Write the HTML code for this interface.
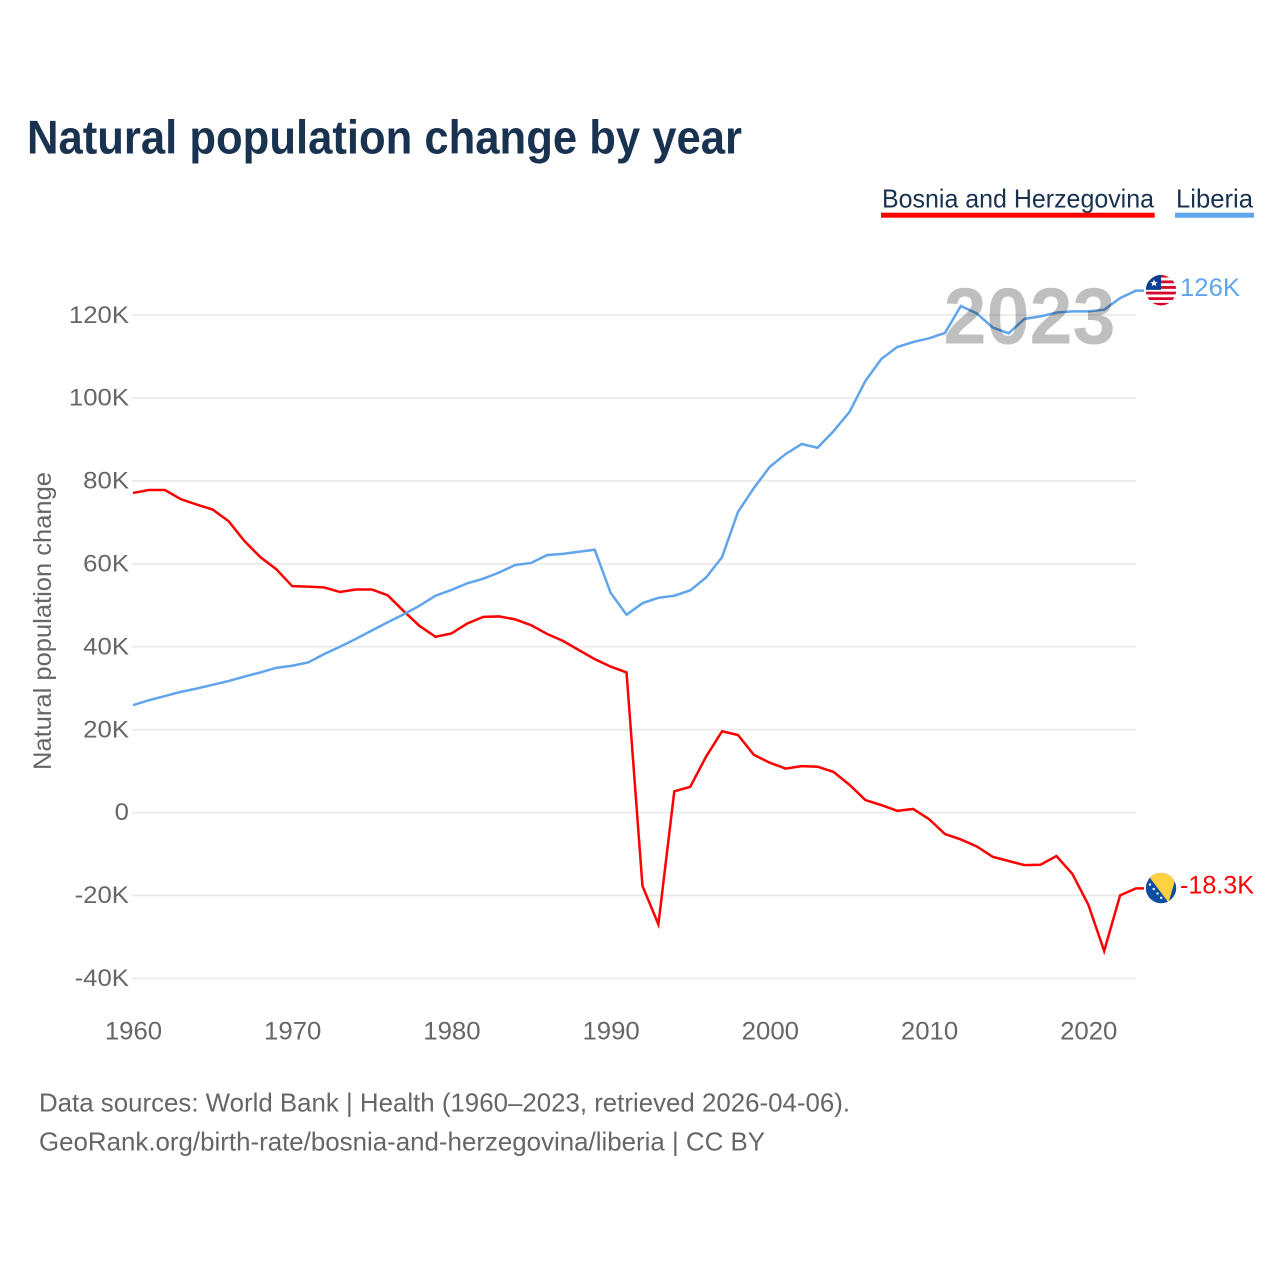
<!DOCTYPE html>
<html lang="en">
<head>
<meta charset="utf-8">
<title>Natural population change by year</title>
<style>
html,body{margin:0;padding:0;background:#fff;width:1280px;height:1280px;overflow:hidden}
svg{display:block;font-family:"Liberation Sans",sans-serif}
</style>
</head>
<body>
<svg id="chart" xmlns="http://www.w3.org/2000/svg" width="1280" height="1280" viewBox="0 0 1280 1280">
  <defs>
    <clipPath id="flag-clip-lr"><circle id="clip-lr" cx="0" cy="0" r="15.2"/></clipPath>
    <clipPath id="flag-clip-ba"><circle id="clip-ba" cx="0" cy="0" r="15.2"/></clipPath>
  </defs>
  <rect width="1280" height="1280" fill="#fff"/>
  <text x="27" y="153.5" font-size="47" font-weight="700" fill="#18324f" textLength="715" lengthAdjust="spacingAndGlyphs">Natural population change by year</text>

  <g>
    <text x="882" y="207.5" font-size="26" fill="#18324f" textLength="272" lengthAdjust="spacingAndGlyphs">Bosnia and Herzegovina</text>
    <rect x="881" y="212.7" width="273.7" height="5" fill="#ff0000"/>
  </g>
  <g>
    <text x="1176" y="207.5" font-size="26" fill="#18324f" textLength="77" lengthAdjust="spacingAndGlyphs">Liberia</text>
    <rect x="1175" y="212.7" width="79" height="5" fill="#60a5ec"/>
  </g>

  <text transform="translate(51,621) rotate(-90)" text-anchor="middle" font-size="25" fill="#666" textLength="298" lengthAdjust="spacingAndGlyphs">Natural population change</text>

  <g id="grid"></g>
  <g id="y-labels"></g>
  <g id="x-labels"></g>
  <g id="lines"></g>
  <text id="year-label" x="1029.5" y="343.5" text-anchor="middle" font-size="80" font-weight="700" fill="#000" fill-opacity="0.25" textLength="172" lengthAdjust="spacingAndGlyphs"></text>

  <g id="flag-lr">
    <g clip-path="url(#flag-clip-lr)">
      <rect x="-16" y="-16" width="32" height="32" fill="#fff"/>
      <rect x="-16" y="-15.5" width="32" height="2.8" fill="#d90429"/>
      <rect x="-16" y="-9.8" width="32" height="2.8" fill="#d90429"/>
      <rect x="-16" y="-4.2" width="32" height="2.8" fill="#d90429"/>
      <rect x="-16" y="1.4" width="32" height="2.8" fill="#d90429"/>
      <rect x="-16" y="7" width="32" height="2.8" fill="#d90429"/>
      <rect x="-16" y="12.6" width="32" height="2.8" fill="#d90429"/>
      <rect x="-16" y="-16" width="16" height="15.6" fill="#0a3f92"/>
      <polygon points="-7,-11 -6,-8.3 -3.2,-8.3 -5.4,-6.6 -4.6,-3.9 -7,-5.5 -9.4,-3.9 -8.6,-6.6 -10.8,-8.3 -8,-8.3" fill="#fff"/>
    </g>
  </g>
  <g id="flag-ba">
    <g clip-path="url(#flag-clip-ba)">
      <rect x="-16" y="-16" width="32" height="32" fill="#0b4ea2"/>
      <polygon points="-15,-15.5 16,-15.5 13,-4 7.5,14.5" fill="#fdd13f"/>
      <circle cx="-14" cy="-7.5" r="1.2" fill="#fff"/>
      <circle cx="-11" cy="-3.5" r="1.2" fill="#fff"/>
      <circle cx="-7.3" cy="1" r="1.2" fill="#fff"/>
      <circle cx="-3.5" cy="5.5" r="1.2" fill="#fff"/>
      <circle cx="0.2" cy="9.8" r="1.2" fill="#fff"/>
    </g>
  </g>
  <text id="value-lr" x="1180" y="297" font-size="25" fill="#60a5ec" textLength="60" lengthAdjust="spacingAndGlyphs"></text>
  <text id="value-ba" x="1180" y="893.5" font-size="25" fill="#ff0000" textLength="74" lengthAdjust="spacingAndGlyphs"></text>

  <text x="39" y="1111.5" font-size="26" fill="#666" textLength="811" lengthAdjust="spacingAndGlyphs">Data sources: World Bank | Health (1960–2023, retrieved 2026-04-06).</text>
  <text x="39" y="1150.5" font-size="26" fill="#666" textLength="726" lengthAdjust="spacingAndGlyphs">GeoRank.org/birth-rate/bosnia-and-herzegovina/liberia | CC BY</text>
</svg>
<script>
var firstYear = 1960;
var bosnia = [77.1,77.8,77.8,75.6,74.3,73.1,70.3,65.5,61.6,58.7,54.6,54.5,54.3,53.2,53.8,53.8,52.4,48.6,45.0,42.4,43.2,45.6,47.2,47.3,46.6,45.2,43.1,41.4,39.2,37.0,35.2,33.8,-17.7,-27.0,5.1,6.2,13.5,19.6,18.7,13.9,12.0,10.6,11.2,11.05,9.8,6.7,3.0,1.8,0.4,0.85,-1.6,-5.2,-6.5,-8.2,-10.7,-11.7,-12.7,-12.6,-10.5,-14.8,-22.2,-33.4,-20.0,-18.3];
var liberia = [25.9,27.1,28.1,29.1,29.9,30.8,31.7,32.8,33.8,34.9,35.4,36.2,38.2,40.0,41.9,43.9,45.9,47.8,49.9,52.3,53.7,55.3,56.4,57.9,59.7,60.2,62.1,62.4,62.9,63.4,53.0,47.7,50.5,51.8,52.3,53.6,56.7,61.6,72.5,78.3,83.4,86.5,88.9,88.0,92.0,96.6,104.1,109.4,112.3,113.5,114.4,115.7,122.2,120.4,117.0,115.6,119.1,119.7,120.6,120.9,120.9,121.3,124.1,125.9];
var yTickValues = [120,100,80,60,40,20,0,-20,-40];
var xTickYears = [1960,1970,1980,1990,2000,2010,2020];

var NS = 'http://www.w3.org/2000/svg';
function xScale(year) { return 133 + (year - 1960) * (1003 / 63); }
function yScale(v) { return 812.5 - v * (82.9 / 20); }
function tickText(v) { return v === 0 ? '0' : v + 'K'; }
function shortValue(v) {
  var a = Math.abs(v);
  return (v < 0 ? '-' : '') + (a >= 100 ? Math.round(a) : a.toFixed(1)) + 'K';
}
function fit(t, k) {
  t.setAttribute('textLength', (t.getComputedTextLength() * k).toFixed(1));
  t.setAttribute('lengthAdjust', 'spacingAndGlyphs');
}

var grid = document.getElementById('grid');
var yLabels = document.getElementById('y-labels');
var xLabels = document.getElementById('x-labels');
var lines = document.getElementById('lines');

yTickValues.forEach(function (v) {
  var l = document.createElementNS(NS, 'line');
  
  
  l.setAttribute('x1', 132);
  l.setAttribute('x2', 1136);
  l.setAttribute('y1', yScale(v));
  l.setAttribute('y2', yScale(v));
  l.setAttribute('stroke', '#e9e9e9');
  l.setAttribute('stroke-width', 1.6);
  grid.appendChild(l);

  var t = document.createElementNS(NS, 'text');
  
  
  t.setAttribute('x', 129);
  t.setAttribute('y', yScale(v) + 7.7);
  t.setAttribute('text-anchor', 'end');
  t.setAttribute('font-size', 24.5);
  t.setAttribute('fill', '#666');
  t.textContent = tickText(v);
  yLabels.appendChild(t);
  fit(t, 1.05);
});

xTickYears.forEach(function (y) {
  var t = document.createElementNS(NS, 'text');
  
  
  t.setAttribute('x', xScale(y) + 0.5);
  t.setAttribute('y', 1039.5);
  t.setAttribute('text-anchor', 'middle');
  t.setAttribute('font-size', 25);
  t.setAttribute('fill', '#666');
  t.textContent = String(y);
  xLabels.appendChild(t);
  fit(t, 1.03);
});

function pathFor(values) {
  var pts = values.map(function (v, i) {
    return xScale(firstYear + i).toFixed(2) + ',' + yScale(v).toFixed(2);
  });
  var last = values[values.length - 1];
  pts.push((xScale(firstYear + values.length - 1) + 8).toFixed(2) + ',' + yScale(last).toFixed(2));
  return 'M' + pts.join('L');
}

var redLine = document.createElementNS(NS, 'path');


redLine.setAttribute('d', pathFor(bosnia));
redLine.setAttribute('fill', 'none');
redLine.setAttribute('stroke', '#ff0000');
redLine.setAttribute('stroke-width', 2.5);
lines.appendChild(redLine);

var blueLine = document.createElementNS(NS, 'path');


blueLine.setAttribute('d', pathFor(liberia));
blueLine.setAttribute('fill', 'none');
blueLine.setAttribute('stroke', '#60a5ec');
blueLine.setAttribute('stroke-width', 2.5);
lines.appendChild(blueLine);

var lastLr = liberia[liberia.length - 1];
var lastBa = bosnia[bosnia.length - 1];
document.getElementById('flag-lr').setAttribute('transform', 'translate(1161,' + (yScale(lastLr) - 0.4) + ')');
document.getElementById('flag-ba').setAttribute('transform', 'translate(1161,' + (yScale(lastBa) - 0.3) + ')');
document.getElementById('value-lr').textContent = shortValue(lastLr);
document.getElementById('value-lr').setAttribute('y', yScale(lastLr) + 5.5);
document.getElementById('value-ba').textContent = shortValue(lastBa);
document.getElementById('value-ba').setAttribute('y', yScale(lastBa) + 5);
document.getElementById('year-label').textContent = String(firstYear + bosnia.length - 1);
</script>
</body>
</html>
